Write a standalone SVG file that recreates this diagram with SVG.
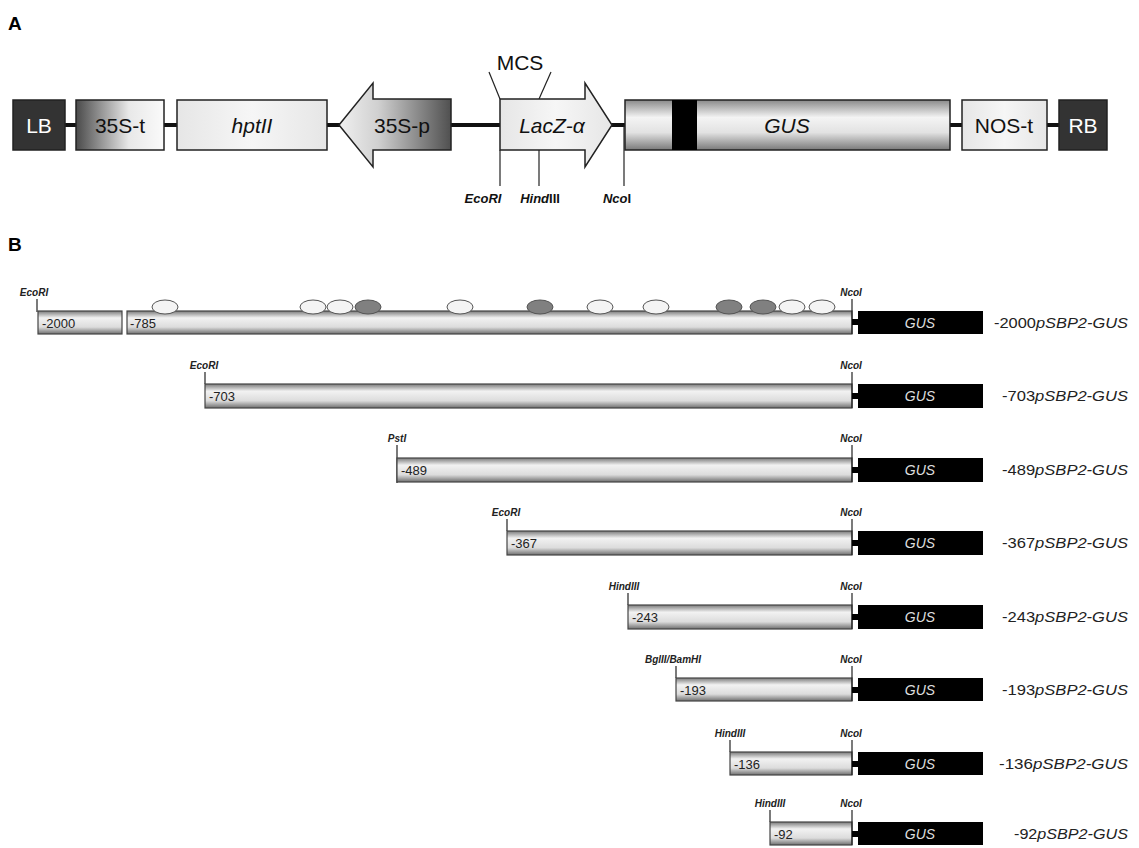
<svg xmlns="http://www.w3.org/2000/svg" width="1139" height="848" viewBox="0 0 1139 848">
<defs>
<linearGradient id="g35t" x1="0" y1="0" x2="1" y2="0"><stop offset="0" stop-color="#4a4a4a"/><stop offset="0.6" stop-color="#e8e8e8"/><stop offset="1" stop-color="#fafafa"/></linearGradient>
<linearGradient id="g35p" x1="0" y1="0" x2="1" y2="0"><stop offset="0" stop-color="#f0f0f0"/><stop offset="0.35" stop-color="#d0d0d0"/><stop offset="1" stop-color="#505050"/></linearGradient>
<linearGradient id="gcyl" x1="0" y1="0" x2="0" y2="1"><stop offset="0" stop-color="#8a8a8a"/><stop offset="0.35" stop-color="#f4f4f4"/><stop offset="0.65" stop-color="#e2e2e2"/><stop offset="1" stop-color="#7a7a7a"/></linearGradient>
<linearGradient id="gbar" x1="0" y1="0" x2="0" y2="1"><stop offset="0" stop-color="#7a7a7a"/><stop offset="0.3" stop-color="#f2f2f2"/><stop offset="0.7" stop-color="#dcdcdc"/><stop offset="1" stop-color="#6e6e6e"/></linearGradient>
<linearGradient id="gplain" x1="0" y1="0" x2="1" y2="0"><stop offset="0" stop-color="#e6e6e6"/><stop offset="0.5" stop-color="#f6f6f6"/><stop offset="1" stop-color="#e6e6e6"/></linearGradient>
</defs>
<style>
.lab{font-family:"Liberation Sans",Arial,sans-serif;font-weight:bold;font-size:19px;fill:#000}
.big{font-family:"Liberation Sans",Arial,sans-serif;font-size:21px;fill:#111}
.it{font-style:italic}
.wt{fill:#fff}
.box{stroke:#222;stroke-width:1.5}
.dark{fill:#333;stroke:#222;stroke-width:1.5}
.bb{stroke:#2a2a2a;stroke-width:1.5;fill:#fff}
.tk{stroke:#222;stroke-width:1.2}
.re{font-family:"Liberation Sans",Arial,sans-serif;font-size:13px;font-weight:bold;font-style:italic;fill:#111;text-anchor:middle}
.rb{font-family:"Liberation Sans",Arial,sans-serif;font-size:10px;font-weight:bold;font-style:italic;fill:#222;text-anchor:middle}
.bar{fill:url(#gbar);stroke:#444;stroke-width:1.2}
.gus{fill:#000}
.gt{font-family:"Liberation Sans",Arial,sans-serif;font-size:14px;font-style:italic;fill:#ddd;text-anchor:middle}
.num{font-family:"Liberation Sans",Arial,sans-serif;font-size:13px;fill:#222}
.nm{font-family:"Liberation Sans",Arial,sans-serif;font-size:14px;fill:#222;text-anchor:end}
.ov{fill:#f4f4f4;stroke:#555;stroke-width:1}
.ovd{fill:#808080;stroke:#555;stroke-width:1}
</style>
<rect width="1139" height="848" fill="#fff"/>
<text class="lab" x="8" y="30">A</text>
<text class="lab" x="8" y="251">B</text>

<g id="connectors">
<line x1="65" y1="125" x2="1059" y2="125" stroke="#111" stroke-width="4"/>
<line x1="489" y1="72" x2="500" y2="99" class="tk"/>
<line x1="551" y1="72" x2="539" y2="99" class="tk"/>
<line x1="500" y1="150" x2="500" y2="186" class="tk"/>
<line x1="539" y1="150" x2="539" y2="186" class="tk"/>
<line x1="624" y1="125" x2="624" y2="186" class="tk"/>
</g>

<g id="LB"><rect x="13" y="100" width="52" height="50" class="dark"/><text class="big wt" x="39" y="133" text-anchor="middle">LB</text></g>
<g id="n35St"><rect x="76" y="100" width="88" height="50" fill="url(#g35t)" class="box"/><text class="big" x="120" y="133" text-anchor="middle">35S-t</text></g>
<g id="hptII"><rect x="177" y="100" width="150" height="50" fill="url(#gplain)" class="box"/><text class="big it" x="252" y="133" text-anchor="middle">hptII</text></g>
<g id="n35Sp"><polygon points="339,125 373,83 373,99 451,99 451,150 373,150 373,167" fill="url(#g35p)" class="box"/><text class="big" x="402" y="133" text-anchor="middle">35S-p</text></g>
<g id="LacZ"><polygon points="500,99 585,99 585,83 612,125 585,167 585,150 500,150" fill="url(#gplain)" class="box"/><text class="big it" x="552" y="133" text-anchor="middle">LacZ-α</text></g>
<g id="MCS"><text class="big" x="520" y="70" text-anchor="middle">MCS</text></g>
<g id="sitesA">
<text class="re" x="483" y="203">EcoRI</text>
<text class="re" x="540" y="203"><tspan>Hind</tspan><tspan font-style="normal">III</tspan></text>
<text class="re" x="617" y="203"><tspan>Nco</tspan><tspan font-style="normal">I</tspan></text>
</g>
<g id="GUS_A"><rect x="625" y="100" width="325" height="50" fill="url(#gcyl)" class="box"/><rect x="672" y="100" width="25" height="50" fill="#000"/><text class="big it" x="787" y="133" text-anchor="middle">GUS</text></g>
<g id="NOSt"><rect x="962" y="100" width="85" height="50" fill="url(#gplain)" class="box"/><text class="big" x="1004" y="133" text-anchor="middle">NOS-t</text></g>
<g id="RB"><rect x="1059" y="100" width="48" height="50" class="dark"/><text class="big wt" x="1083" y="133" text-anchor="middle">RB</text></g>

<!-- Part B rows -->
<g id="row1">
<line x1="37" y1="299" x2="37" y2="312" class="tk"/>
<text class="rb" x="34" y="296">EcoRI</text>
<rect x="38" y="311" width="84" height="23" class="bar"/>
<text class="num" x="42" y="328">-2000</text>
<rect x="127" y="311" width="725" height="23" class="bar"/>
<text class="num" x="130" y="328">-785</text>
<ellipse cx="165" cy="307" rx="13" ry="7" class="ov"/>
<ellipse cx="313" cy="307" rx="13" ry="7" class="ov"/>
<ellipse cx="340" cy="307" rx="13" ry="7" class="ov"/>
<ellipse cx="368" cy="307" rx="13" ry="7" class="ovd"/>
<ellipse cx="460" cy="307" rx="13" ry="7" class="ov"/>
<ellipse cx="540" cy="307" rx="13" ry="7" class="ovd"/>
<ellipse cx="600" cy="307" rx="13" ry="7" class="ov"/>
<ellipse cx="656" cy="307" rx="13" ry="7" class="ov"/>
<ellipse cx="729" cy="307" rx="13" ry="7" class="ovd"/>
<ellipse cx="763" cy="307" rx="13" ry="7" class="ovd"/>
<ellipse cx="792" cy="307" rx="13" ry="7" class="ov"/>
<ellipse cx="822" cy="307" rx="13" ry="7" class="ov"/>
<line x1="852" y1="299" x2="852" y2="334" class="tk"/>
<text class="rb" x="851" y="296">NcoI</text>
<rect x="852" y="319" width="6" height="6" class="gus"/>
<rect x="858" y="311" width="125" height="23" class="gus"/>
<text class="gt" x="920" y="328">GUS</text>
<text class="nm" x="1128" y="328" textLength="134" lengthAdjust="spacingAndGlyphs">-2000<tspan font-style="italic">pSBP2-GUS</tspan></text>
</g>

<g id="row2">
<line x1="205" y1="372" x2="205" y2="384" class="tk"/>
<text class="rb" x="204" y="369">EcoRI</text>
<rect x="205" y="384" width="647" height="24" class="bar"/>
<text class="num" x="209" y="401">-703</text>
<line x1="852" y1="372" x2="852" y2="408" class="tk"/>
<text class="rb" x="851" y="369">NcoI</text>
<rect x="852" y="393" width="6" height="6" class="gus"/>
<rect x="858" y="384" width="125" height="24" class="gus"/>
<text class="gt" x="920" y="401">GUS</text>
<text class="nm" x="1128" y="401" textLength="126" lengthAdjust="spacingAndGlyphs">-703<tspan font-style="italic">pSBP2-GUS</tspan></text>
</g>

<g id="row3">
<line x1="397" y1="445" x2="397" y2="483" class="tk"/>
<text class="rb" x="397" y="442">PstI</text>
<rect x="397" y="458" width="455" height="24" class="bar"/>
<text class="num" x="401" y="475">-489</text>
<line x1="852" y1="445" x2="852" y2="482" class="tk"/>
<text class="rb" x="851" y="442">NcoI</text>
<rect x="852" y="467" width="6" height="6" class="gus"/>
<rect x="858" y="458" width="125" height="24" class="gus"/>
<text class="gt" x="920" y="475">GUS</text>
<text class="nm" x="1128" y="475" textLength="126" lengthAdjust="spacingAndGlyphs">-489<tspan font-style="italic">pSBP2-GUS</tspan></text>
</g>

<g id="row4">
<line x1="507" y1="519" x2="507" y2="531" class="tk"/>
<text class="rb" x="506" y="516">EcoRI</text>
<rect x="507" y="531" width="345" height="24" class="bar"/>
<text class="num" x="511" y="548">-367</text>
<line x1="852" y1="519" x2="852" y2="555" class="tk"/>
<text class="rb" x="851" y="516">NcoI</text>
<rect x="852" y="540" width="6" height="6" class="gus"/>
<rect x="858" y="531" width="125" height="24" class="gus"/>
<text class="gt" x="920" y="548">GUS</text>
<text class="nm" x="1128" y="548" textLength="126" lengthAdjust="spacingAndGlyphs">-367<tspan font-style="italic">pSBP2-GUS</tspan></text>
</g>

<g id="row5">
<line x1="628" y1="593" x2="628" y2="605" class="tk"/>
<text class="rb" x="624" y="590">HindIII</text>
<rect x="628" y="605" width="224" height="24" class="bar"/>
<text class="num" x="632" y="622">-243</text>
<line x1="852" y1="593" x2="852" y2="629" class="tk"/>
<text class="rb" x="851" y="590">NcoI</text>
<rect x="852" y="614" width="6" height="6" class="gus"/>
<rect x="858" y="605" width="125" height="24" class="gus"/>
<text class="gt" x="920" y="622">GUS</text>
<text class="nm" x="1128" y="622" textLength="126" lengthAdjust="spacingAndGlyphs">-243<tspan font-style="italic">pSBP2-GUS</tspan></text>
</g>

<g id="row6">
<line x1="676" y1="666" x2="676" y2="678" class="tk"/>
<text class="rb" x="673" y="663">BglII/BamHI</text>
<rect x="676" y="678" width="176" height="23" class="bar"/>
<text class="num" x="680" y="695">-193</text>
<line x1="852" y1="666" x2="852" y2="701" class="tk"/>
<text class="rb" x="851" y="663">NcoI</text>
<rect x="852" y="687" width="6" height="6" class="gus"/>
<rect x="858" y="678" width="125" height="23" class="gus"/>
<text class="gt" x="920" y="695">GUS</text>
<text class="nm" x="1128" y="695" textLength="126" lengthAdjust="spacingAndGlyphs">-193<tspan font-style="italic">pSBP2-GUS</tspan></text>
</g>

<g id="row7">
<line x1="730" y1="740" x2="730" y2="752" class="tk"/>
<text class="rb" x="730" y="737">HindIII</text>
<rect x="730" y="752" width="122" height="23" class="bar"/>
<text class="num" x="734" y="769">-136</text>
<line x1="852" y1="740" x2="852" y2="775" class="tk"/>
<text class="rb" x="851" y="737">NcoI</text>
<rect x="852" y="761" width="6" height="6" class="gus"/>
<rect x="858" y="752" width="125" height="23" class="gus"/>
<text class="gt" x="920" y="769">GUS</text>
<text class="nm" x="1128" y="769" textLength="129" lengthAdjust="spacingAndGlyphs">-136<tspan font-style="italic">pSBP2-GUS</tspan></text>
</g>

<g id="row8">
<line x1="770" y1="810" x2="770" y2="822" class="tk"/>
<text class="rb" x="770" y="807">HindIII</text>
<rect x="770" y="822" width="82" height="23" class="bar"/>
<text class="num" x="774" y="839">-92</text>
<line x1="852" y1="810" x2="852" y2="845" class="tk"/>
<text class="rb" x="851" y="807">NcoI</text>
<rect x="852" y="831" width="6" height="6" class="gus"/>
<rect x="858" y="822" width="125" height="23" class="gus"/>
<text class="gt" x="920" y="839">GUS</text>
<text class="nm" x="1128" y="839" textLength="114" lengthAdjust="spacingAndGlyphs">-92<tspan font-style="italic">pSBP2-GUS</tspan></text>
</g>
</svg>
